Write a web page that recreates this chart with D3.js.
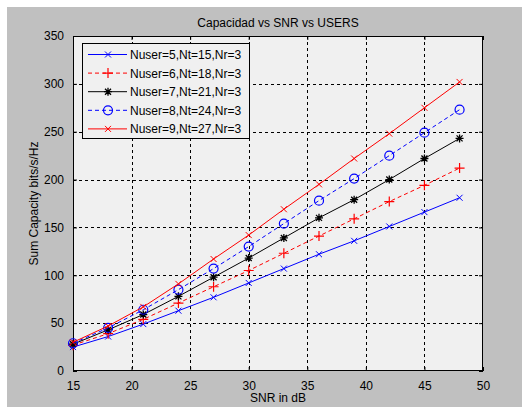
<!DOCTYPE html>
<html>
<head>
<meta charset="utf-8">
<script src="https://d3js.org/d3.v7.min.js"></script>
<style>
  body { margin: 0; background: #fff; }
  text { font-family: Arial, "Liberation Sans", sans-serif; }
</style>
</head>
<body>
<script>
'use strict';

// data
const snr = [15, 18, 21, 24, 27, 30, 33, 36, 39, 42, 45, 48];
const cap5 = [25, 36, 49, 63, 77, 92, 107, 122, 136, 151, 166, 181];
const cap6 = [27, 39, 54, 71, 88, 105, 123, 141, 159, 177, 194, 212];
const cap7 = [28, 43, 59, 78, 98, 118, 139, 160, 179, 200, 222, 243];
const cap8 = [29, 45, 64, 85, 107, 130, 154, 178, 201, 225, 249, 273];
const cap9 = [30, 47, 67, 91, 117, 142, 169, 195, 222, 248, 275, 302];
const seriesNames = ["Nuser=5,Nt=15,Nr=3", "Nuser=6,Nt=18,Nr=3", "Nuser=7,Nt=21,Nr=3",
                     "Nuser=8,Nt=24,Nr=3", "Nuser=9,Nt=27,Nr=3"];
const xTicks = [15, 20, 25, 30, 35, 40, 45, 50];
const yTicks = [0, 50, 100, 150, 200, 250, 300, 350];

(function() {

  const series = [
    { name: seriesNames[0], values: cap5, color: "#0000ff", dash: null, marker: "x" },
    { name: seriesNames[1], values: cap6, color: "#ff0000", dash: "4,3", marker: "+" },
    { name: seriesNames[2], values: cap7, color: "#000000", dash: null, marker: "*" },
    { name: seriesNames[3], values: cap8, color: "#0000ff", dash: "4,3", marker: "o" },
    { name: seriesNames[4], values: cap9, color: "#ff0000", dash: null, marker: "x" }
  ];

  const W = 522, H = 407;
  const pLeft = 73, pRight = 483, pTop = 36, pBottom = 371;

  const svg = d3.select("body").append("svg")
    .attr("width", W).attr("height", H);

  // figure background
  svg.append("rect").attr("x", 7).attr("y", 7)
    .attr("width", W - 7).attr("height", H - 7)
    .attr("fill", "#c0c0c0");

  const x = d3.scaleLinear().domain([15, 50]).range([pLeft, pRight]);
  const y = d3.scaleLinear().domain([0, 350]).range([pBottom, pTop]);

  // axes area
  svg.append("rect").attr("x", pLeft).attr("y", pTop)
    .attr("width", pRight - pLeft).attr("height", pBottom - pTop)
    .attr("fill", "#f0f0f0");

  // grid
  const grid = svg.append("g").attr("stroke", "#000").attr("stroke-width", 1)
    .attr("stroke-dasharray", "3,3").attr("shape-rendering", "crispEdges");
  grid.selectAll(".gx").data(xTicks.slice(1, -1)).enter().append("line")
    .attr("x1", d => Math.round(x(d)) + 0.5).attr("x2", d => Math.round(x(d)) + 0.5)
    .attr("y1", pTop).attr("y2", pBottom);
  grid.selectAll(".gy").data(yTicks.slice(1, -1)).enter().append("line")
    .attr("y1", d => Math.round(y(d)) + 0.5).attr("y2", d => Math.round(y(d)) + 0.5)
    .attr("x1", pLeft).attr("x2", pRight);

  // axes with inward ticks (MATLAB style)
  const xAxis = d3.axisBottom(x).tickValues(xTicks).tickSizeInner(-4).tickSizeOuter(0).tickPadding(10);
  const yAxis = d3.axisLeft(y).tickValues(yTicks).tickSizeInner(-4).tickSizeOuter(0).tickPadding(9);
  const xTop = d3.axisTop(x).tickValues(xTicks).tickSizeInner(-4).tickSizeOuter(0).tickFormat("");
  const yRight = d3.axisRight(y).tickValues(yTicks).tickSizeInner(-4).tickSizeOuter(0).tickFormat("");

  function styleAxis(g) {
    g.select(".domain").remove();
    g.selectAll("line").attr("stroke", "#000");
    g.selectAll("text").attr("fill", "#000").style("font-size", "12px");
  }
  svg.append("g").attr("transform", `translate(0,${pBottom})`).call(xAxis).call(styleAxis);
  svg.append("g").attr("transform", `translate(${pLeft},0)`).call(yAxis).call(styleAxis);
  svg.append("g").attr("transform", `translate(0,${pTop})`).call(xTop).call(styleAxis);
  svg.append("g").attr("transform", `translate(${pRight},0)`).call(yRight).call(styleAxis);

  // box
  svg.append("rect").attr("x", pLeft + 0.5).attr("y", pTop + 0.5)
    .attr("width", pRight - pLeft - 1).attr("height", pBottom - pTop - 1)
    .attr("fill", "none").attr("stroke", "#000").attr("stroke-width", 1);

  // markers
  function drawMarker(g, type, cx, cy, color) {
    if (type === "x") {
      const s = 3;
      g.append("path").attr("d", `M${cx - s},${cy - s}L${cx + s},${cy + s}M${cx - s},${cy + s}L${cx + s},${cy - s}`)
        .attr("stroke", color).attr("fill", "none");
    } else if (type === "+") {
      const s = 5;
      g.append("path").attr("d", `M${cx - s},${cy}L${cx + s},${cy}M${cx},${cy - s}L${cx},${cy + s}`)
        .attr("stroke", color).attr("fill", "none").attr("stroke-width", 1.2);
    } else if (type === "*") {
      const s = 4, d = 3;
      g.append("path").attr("d", `M${cx - s},${cy}L${cx + s},${cy}M${cx},${cy - s}L${cx},${cy + s}` +
        `M${cx - d},${cy - d}L${cx + d},${cy + d}M${cx - d},${cy + d}L${cx + d},${cy - d}`)
        .attr("stroke", color).attr("fill", "none").attr("stroke-width", 1.3);
    } else if (type === "o") {
      g.append("circle").attr("cx", cx).attr("cy", cy).attr("r", 4.5)
        .attr("stroke", color).attr("fill", "none").attr("stroke-width", 1.2);
    }
  }

  const line = d3.line().x((d, i) => x(snr[i])).y(d => y(d));

  series.forEach(s => {
    const g = svg.append("g");
    g.append("path").datum(s.values).attr("d", line)
      .attr("fill", "none").attr("stroke", s.color).attr("stroke-width", 1)
      .attr("stroke-dasharray", s.dash);
    s.values.forEach((v, i) => drawMarker(g, s.marker, x(snr[i]), y(v), s.color));
  });

  // legend
  const lg = svg.append("g");
  lg.append("rect").attr("x", 82.5).attr("y", 43.5).attr("width", 167).attr("height", 95)
    .attr("fill", "#f0f0f0").attr("stroke", "#000");
  series.forEach((s, i) => {
    const ly = 54.5 + i * 18.6;
    lg.append("line").attr("x1", 88).attr("x2", 127).attr("y1", ly).attr("y2", ly)
      .attr("stroke", s.color).attr("stroke-dasharray", s.dash);
    drawMarker(lg, s.marker, 108, ly, s.color);
    lg.append("text").attr("x", 130).attr("y", ly + 4.5)
      .style("font-size", "12px").attr("fill", "#000").text(s.name);
  });

  // title and labels
  svg.append("text").attr("x", (pLeft + pRight) / 2).attr("y", 27)
    .attr("text-anchor", "middle").style("font-size", "12px").text("Capacidad vs SNR vs USERS");
  svg.append("text").attr("x", (pLeft + pRight) / 2).attr("y", 402)
    .attr("text-anchor", "middle").style("font-size", "12px").text("SNR in dB");
  svg.append("text").attr("transform", `translate(38,${(pTop + pBottom) / 2}) rotate(-90)`)
    .attr("text-anchor", "middle").style("font-size", "12px").text("Sum Capacity bits/s/Hz");

})();
</script>
</body>
</html>
